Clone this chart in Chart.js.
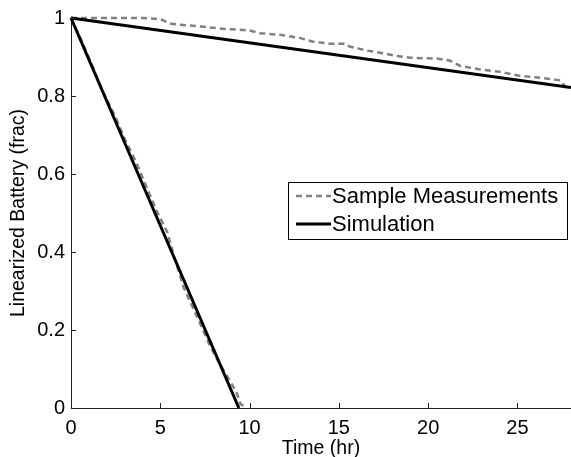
<!DOCTYPE html>
<html>
<head>
<meta charset="utf-8">
<script src="https://cdn.jsdelivr.net/npm/chart.js@4"></script>
<style>
  html, body { margin: 0; padding: 0; background: #fff; }
  #wrap { width: 571px; height: 457px; }
</style>
</head>
<body>
<div id="wrap"><canvas id="chart" width="571" height="457"></canvas></div>
<script>
// measured battery, slow discharge run
const slowMeasX = [0, 2, 4, 5, 5.6, 7.3, 8.6, 10, 10.6, 11.7, 12.8, 13.5, 14.5, 15.3, 15.6, 16.5, 17.3, 18.2, 19, 20.5, 21.2, 21.8, 22.9, 24, 25.2, 26.3, 27.4, 27.8];
const slowMeasY = [1, 1, 1, 0.997, 0.985, 0.978, 0.972, 0.968, 0.961, 0.957, 0.949, 0.94, 0.934, 0.934, 0.927, 0.917, 0.911, 0.903, 0.898, 0.896, 0.891, 0.877, 0.868, 0.862, 0.851, 0.847, 0.84, 0.818];

// measured battery, fast discharge run
const fastMeasX = [0, 0.5, 1.2, 1.8, 2.5, 3.0, 3.6, 4.2, 4.8, 5.4, 5.7, 6.3, 7.1, 7.8, 8.3, 8.7, 9.26, 9.5, 9.85];
const fastMeasY = [1, 0.952, 0.877, 0.81, 0.745, 0.69, 0.635, 0.57, 0.505, 0.45, 0.40, 0.31, 0.23, 0.158, 0.115, 0.085, 0.041, 0.01, 0];

// simulated lines
const slowSimX = [0, 28];
const slowSimY = [1, 0.822];
const fastSimX = [0, 9.4];
const fastSimY = [1, 0];

const xTicks = [0, 5, 10, 15, 20, 25];
const yTicks = [0, 0.2, 0.4, 0.6, 0.8, 1];
const legendLabels = ["Sample Measurements", "Simulation"];

const FONT = "'Liberation Sans', Arial, Helvetica, sans-serif";

function pts(xs, ys) {
    return xs.map((x, i) => ({ x: x, y: ys[i] }));
}

const measStyle = {
    borderColor: "#808080",
    borderWidth: 2.5,
    borderDash: [6, 4],
    pointRadius: 0,
    fill: false,
    tension: 0,
    clip: false,
    order: 2
};
const simStyle = {
    borderColor: "#000000",
    borderWidth: 3,
    pointRadius: 0,
    fill: false,
    tension: 0,
    clip: false,
    order: 1
};

// inward tick marks plus the boxed legend, matlab style
const extrasPlugin = {
    id: "extras",
    afterDraw(chart) {
        const ctx = chart.ctx;
        const xs = chart.scales.x;
        const ys = chart.scales.y;
        const area = chart.chartArea;
        ctx.save();
        ctx.strokeStyle = "#222";
        ctx.lineWidth = 1;
        xTicks.forEach(t => {
            const px = Math.round(xs.getPixelForValue(t)) + 0.5;
            ctx.beginPath();
            ctx.moveTo(px, area.bottom);
            ctx.lineTo(px, area.bottom - 5);
            ctx.stroke();
        });
        yTicks.forEach(t => {
            const py = Math.round(ys.getPixelForValue(t)) + 0.5;
            ctx.beginPath();
            ctx.moveTo(area.left, py);
            ctx.lineTo(area.left + 5, py);
            ctx.stroke();
        });

        // legend
        const bx = 288.5, by = 182.5, bw = 279, bh = 57;
        ctx.fillStyle = "#fff";
        ctx.fillRect(bx, by, bw, bh);
        ctx.strokeStyle = "#000";
        ctx.strokeRect(bx, by, bw, bh);
        const rows = [196, 224];
        const styles = [measStyle, simStyle];
        ctx.font = "22px " + FONT;
        ctx.textBaseline = "middle";
        ctx.textAlign = "left";
        legendLabels.forEach((lab, i) => {
            const s = styles[i];
            ctx.strokeStyle = s.borderColor;
            ctx.lineWidth = s.borderWidth;
            ctx.setLineDash(s.borderDash || []);
            ctx.beginPath();
            ctx.moveTo(296, rows[i]);
            ctx.lineTo(331, rows[i]);
            ctx.stroke();
            ctx.setLineDash([]);
            ctx.fillStyle = "#000";
            ctx.fillText(lab, 332, rows[i] + 1);
        });
        ctx.restore();
    }
};

new Chart(document.getElementById("chart").getContext("2d"), {
    type: "line",
    data: {
        datasets: [
            Object.assign({ label: legendLabels[0], data: pts(slowMeasX, slowMeasY) }, measStyle),
            Object.assign({ label: legendLabels[0] + " 2", data: pts(fastMeasX, fastMeasY) }, measStyle),
            Object.assign({ label: legendLabels[1], data: pts(slowSimX, slowSimY) }, simStyle),
            Object.assign({ label: legendLabels[1] + " 2", data: pts(fastSimX, fastSimY) }, simStyle)
        ]
    },
    options: {
        responsive: false,
        animation: false,
        layout: { padding: { top: 13, right: 0, left: 0, bottom: 0 } },
        plugins: {
            legend: { display: false },
            tooltip: { enabled: false }
        },
        scales: {
            x: {
                type: "linear",
                min: 0,
                max: 28,
                afterFit: s => { s.height = 49; },
                afterBuildTicks: s => { s.ticks = xTicks.map(v => ({ value: v })); },
                grid: { display: false, drawTicks: false },
                border: { display: true, color: "#222", width: 1 },
                ticks: {
                    padding: 8,
                    color: "#000",
                    font: { family: FONT, size: 20 },
                    maxRotation: 0
                },
                title: {
                    display: true,
                    text: "Time (hr)",
                    color: "#000",
                    font: { family: FONT, size: 19.5 },
                    padding: { top: 0, bottom: -3 }
                }
            },
            y: {
                type: "linear",
                min: 0,
                max: 1,
                afterFit: s => { s.width = 71; },
                afterBuildTicks: s => { s.ticks = yTicks.map(v => ({ value: v })); },
                grid: { display: false, drawTicks: false },
                border: { display: true, color: "#222", width: 1 },
                ticks: {
                    padding: 6,
                    color: "#000",
                    font: { family: FONT, size: 20 },
                    callback: v => String(Math.round(v * 10) / 10)
                },
                title: {
                    display: true,
                    text: "Linearized Battery (frac)",
                    color: "#000",
                    font: { family: FONT, size: 19.5 },
                    padding: { top: 7, bottom: 0 }
                }
            }
        }
    },
    plugins: [extrasPlugin]
});
</script>
</body>
</html>
